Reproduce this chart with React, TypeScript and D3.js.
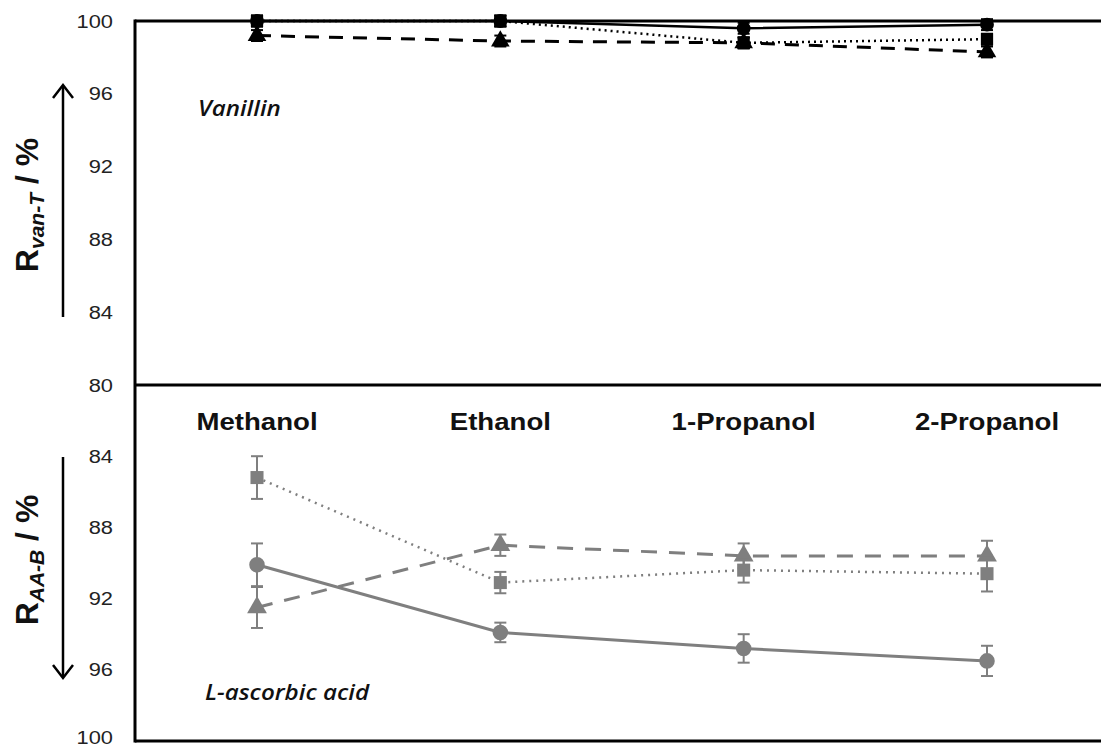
import React from "react";
import * as d3 from "d3";

// Solvents on the shared category axis
const solvents = ["Methanol", "Ethanol", "1-Propanol", "2-Propanol"];

// Vanillin retention (upper panel, axis rising from 80 to 100)
const vanCircle = [100, 100, 99.6, 99.8];
const vanSquare = [100, 100, 98.8, 99.0];
const vanTriangle = [99.2, 98.9, 98.8, 98.3];
const vanErr = [0.3, 0.3, 0.3, 0.3];

// L-ascorbic acid retention (lower panel, axis falling from 80 to 100)
const aaCircle = [90.1, 93.9, 94.8, 95.5];
const aaCircleErr = [1.2, 0.55, 0.8, 0.85];
const aaSquare = [85.2, 91.1, 90.4, 90.6];
const aaSquareErr = [1.2, 0.6, 0.7, 1.0];
const aaTriangle = [92.5, 89.0, 89.6, 89.6];
const aaTriangleErr = [1.15, 0.6, 0.7, 0.85];

const yTicks = [80, 84, 88, 92, 96, 100];

const W = 1101;
const H = 749;
const left = 135;
const topY = 21;
const midY = 385;
const botY = 741;
const SX = 1.15; // horizontal widening applied to the text

const x = d3.scalePoint<string>().domain(solvents).range([257, 987]);
const yTop = d3.scaleLinear().domain([80, 100]).range([midY, topY]);
const yBot = d3.scaleLinear().domain([80, 100]).range([midY, botY]);

type Shape = "circle" | "square" | "triangle";

const symbolFor = (s: Shape) =>
  s === "circle" ? d3.symbolCircle : s === "square" ? d3.symbolSquare : d3.symbolTriangle;

interface SeriesProps {
  values: number[];
  errs: number[];
  y: d3.ScaleLinear<number, number>;
  shape: Shape;
  dash: string | undefined;
  color: string;
  width: number;
  size: number;
}

function Series({ values, errs, y, shape, dash, color, width, size }: SeriesProps) {
  const line = d3
    .line<number>()
    .x((_, i) => x(solvents[i]) as number)
    .y((v) => y(v));
  const sym = d3.symbol().type(symbolFor(shape)).size(size)();
  return (
    <g>
      <path d={line(values) || ""} fill="none" stroke={color} strokeWidth={width} strokeDasharray={dash} />
      {values.map((v, i) => {
        const cx = x(solvents[i]) as number;
        const y1 = y(v - errs[i]);
        const y2 = y(v + errs[i]);
        return (
          <g key={i}>
            <line x1={cx} x2={cx} y1={y1} y2={y2} stroke={color} strokeWidth={2} />
            <line x1={cx - 6} x2={cx + 6} y1={y1} y2={y1} stroke={color} strokeWidth={2} />
            <line x1={cx - 6} x2={cx + 6} y1={y2} y2={y2} stroke={color} strokeWidth={2} />
            <path d={sym || ""} transform={`translate(${cx},${y(v)})`} fill={color} />
          </g>
        );
      })}
    </g>
  );
}

function AxisTitle({ cx, cy, sub }: { cx: number; cy: number; sub: string }) {
  return (
    <text
      transform={`translate(${cx},${cy}) rotate(-90)`}
      textAnchor="middle"
      fontFamily="Liberation Sans, Arial, sans-serif"
      fontWeight="bold"
      fontSize={32}
      fill="#111"
    >
      <tspan>R</tspan>
      <tspan fontSize={21} fontStyle="italic" dy={6}>{sub}</tspan>
      <tspan dy={-6}> / %</tspan>
    </text>
  );
}

function WideText({ x0, y0, children, anchor, dy }: { x0: number; y0: number; children: React.ReactNode; anchor?: string; dy?: string }) {
  return (
    <text transform={`translate(${x0},${y0}) scale(${SX},1)`} textAnchor={anchor} dy={dy}>
      {children}
    </text>
  );
}

export default function App() {
  const grey = "#7f7f7f";
  const black = "#000";
  return (
    <svg width={W} height={H} style={{ display: "block", position: "absolute", left: 0, top: 0 }}>
      <rect width={W} height={H} fill="#fff" />

      {/* frame lines */}
      <line x1={left} x2={W} y1={topY} y2={topY} stroke="#000" strokeWidth={3} />
      <line x1={left} x2={W} y1={midY} y2={midY} stroke="#000" strokeWidth={3} />
      <line x1={left} x2={W} y1={botY} y2={botY} stroke="#000" strokeWidth={3} />
      <line x1={left} x2={left} y1={topY - 1.5} y2={botY + 1.5} stroke="#000" strokeWidth={3} />

      {/* tick labels */}
      <g fontFamily="Liberation Sans, Arial, sans-serif" fontSize={19} fill="#222">
        {yTicks.map((t) => (
          <WideText key={`t${t}`} x0={113} y0={yTop(t)} anchor="end" dy="0.35em">{t}</WideText>
        ))}
        {yTicks
          .filter((t) => t !== 80)
          .map((t) => (
            <WideText key={`b${t}`} x0={113} y0={t === 100 ? yBot(t) - 4 : yBot(t)} anchor="end" dy="0.35em">{t}</WideText>
          ))}
      </g>

      {/* axis titles and direction arrows */}
      <AxisTitle cx={38} cy={205} sub="van-T" />
      <AxisTitle cx={38} cy={560} sub="AA-B" />
      <g stroke="#000" strokeWidth={2.5} fill="none">
        <line x1={63} x2={63} y1={317} y2={86} />
        <path d="M53,98 L63,85 L73,98" />
        <line x1={63} x2={63} y1={457} y2={677} />
        <path d="M53,665 L63,678 L73,665" />
      </g>

      {/* solvent labels */}
      <g fontFamily="Liberation Sans, Arial, sans-serif" fontWeight="bold" fontSize={24} fill="#111">
        {solvents.map((s) => (
          <WideText key={s} x0={x(s) as number} y0={430} anchor="middle">{s}</WideText>
        ))}
      </g>

      {/* panel names */}
      <g fontFamily="Open Sans, sans-serif" fontStyle="italic" fontWeight={600} fontSize={21} fill="#111">
        <WideText x0={198} y0={116}>Vanillin</WideText>
        <WideText x0={205} y0={700}>L-ascorbic acid</WideText>
      </g>

      {/* vanillin series */}
      <Series values={vanTriangle} errs={vanErr} y={yTop} shape="triangle" dash="14,10" color={black} width={3} size={150} />
      <Series values={vanSquare} errs={vanErr} y={yTop} shape="square" dash="2,4" color={black} width={2.5} size={150} />
      <Series values={vanCircle} errs={vanErr} y={yTop} shape="circle" dash={undefined} color={black} width={2.5} size={150} />

      {/* L-ascorbic acid series */}
      <Series values={aaTriangle} errs={aaTriangleErr} y={yBot} shape="triangle" dash="16,12" color={grey} width={3} size={170} />
      <Series values={aaSquare} errs={aaSquareErr} y={yBot} shape="square" dash="2,5" color={grey} width={2.5} size={170} />
      <Series values={aaCircle} errs={aaCircleErr} y={yBot} shape="circle" dash={undefined} color={grey} width={3} size={190} />
    </svg>
  );
}
